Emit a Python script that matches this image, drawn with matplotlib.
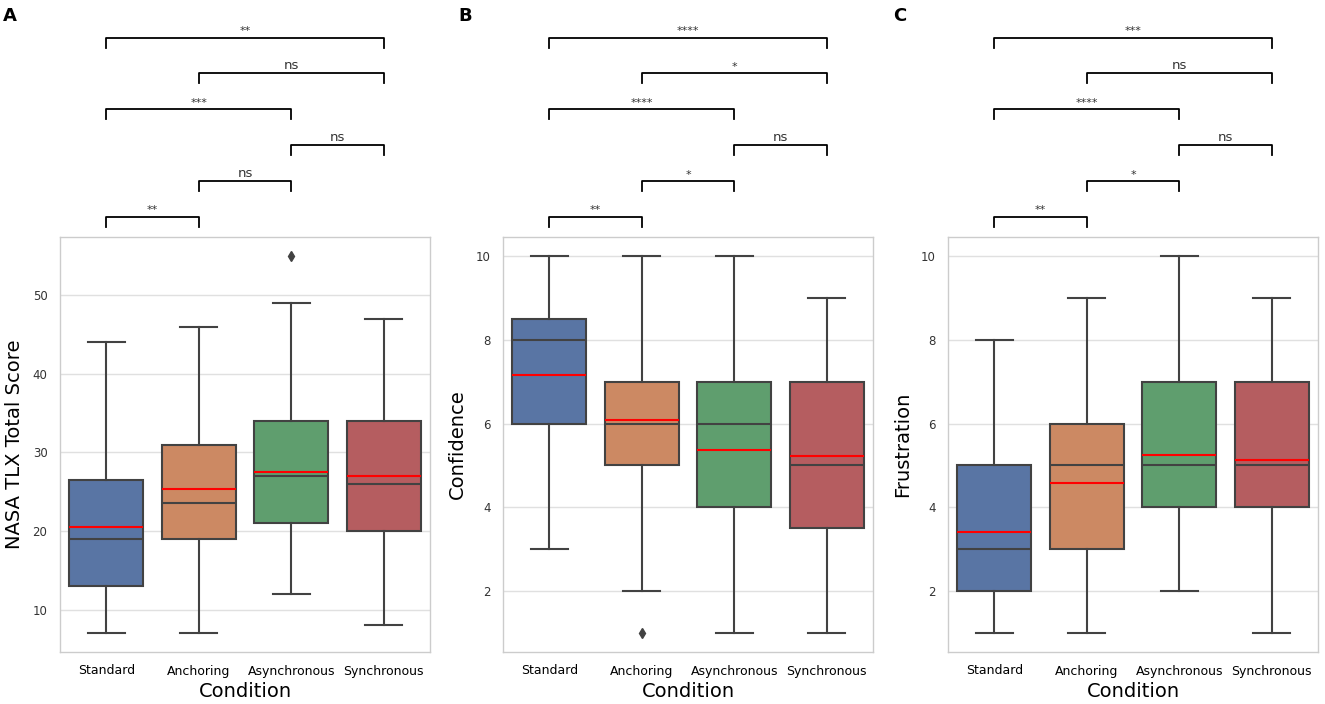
import matplotlib
matplotlib.use("Agg")
from matplotlib import pyplot as plt

CATEGORIES  = ["Standard", "Anchoring", "Asynchronous", "Synchronous"]
COLORS      = ["#5975A4", "#CC8963", "#5F9E6E", "#B55D60"]

# NASA TLX total score
TLX_LO      = [7, 7, 12, 8]
TLX_Q1      = [13, 19, 21, 20]
TLX_MED     = [19, 23.5, 27, 26]
TLX_Q3      = [26.5, 31, 34, 34]
TLX_HI      = [44, 46, 49, 47]
TLX_MEAN    = [20.5, 25.3, 27.5, 27.0]
TLX_FLIERS  = [[], [], [55], []]

# Confidence
CONF_LO     = [3, 2, 1, 1]
CONF_Q1     = [6, 5, 4, 3.5]
CONF_MED    = [8, 6, 6, 5]
CONF_Q3     = [8.5, 7, 7, 7]
CONF_HI     = [10, 10, 10, 9]
CONF_MEAN   = [7.16, 6.08, 5.37, 5.22]
CONF_FLIERS = [[], [1], [], []]

# Frustration
FRUS_LO     = [1, 1, 2, 1]
FRUS_Q1     = [2, 3, 4, 4]
FRUS_MED    = [3, 5, 5, 5]
FRUS_Q3     = [5, 6, 7, 7]
FRUS_HI     = [8, 9, 10, 9]
FRUS_MEAN   = [3.42, 4.59, 5.25, 5.14]
FRUS_FLIERS = [[], [], [], []]

# significance brackets, bottom to top
PAIRS       = [(0, 1), (1, 2), (2, 3), (0, 2), (1, 3), (0, 3)]
TLX_SIG     = ["**", "ns", "ns", "***", "ns", "**"]
CONF_SIG    = ["**", "*", "ns", "****", "*", "****"]
FRUS_SIG    = ["**", "*", "ns", "****", "ns", "***"]

EDGE = "#424242"


def make_stats(lo, q1, med, q3, hi, mean, fliers):
    stats = []
    for i in range(len(CATEGORIES)):
        stats.append(dict(whislo=lo[i], q1=q1[i], med=med[i], q3=q3[i],
                          whishi=hi[i], mean=mean[i], fliers=fliers[i]))
    return stats


def draw_panel(ax, stats, ylabel, sigs):
    bp = ax.bxp(stats, positions=range(len(stats)), widths=0.8, capwidths=0.4,
                patch_artist=True, showmeans=True, meanline=True,
                boxprops=dict(edgecolor=EDGE, linewidth=1.5),
                medianprops=dict(color=EDGE, linewidth=1.5),
                whiskerprops=dict(color=EDGE, linewidth=1.5),
                capprops=dict(color=EDGE, linewidth=1.5),
                meanprops=dict(color="red", linestyle="-", linewidth=1.5),
                flierprops=dict(marker="d", markerfacecolor=EDGE,
                                markeredgecolor=EDGE, markersize=5))
    for patch, c in zip(bp["boxes"], COLORS):
        patch.set_facecolor(c)
    for m in bp["means"]:
        m.set_zorder(4)

    ax.set_xlim(-0.5, len(stats) - 0.5)
    ax.set_xticks(range(len(stats)))
    ax.set_xticklabels(CATEGORIES, fontsize=9)
    ax.tick_params(axis="y", labelsize=8.5, colors="#333333", length=0, pad=9)
    ax.tick_params(axis="x", length=0, pad=9)
    ax.yaxis.grid(True, color="#e0e0e0", linewidth=1)
    ax.set_axisbelow(True)
    for s in ax.spines.values():
        s.set_color("#cccccc")
        s.set_linewidth(1)
    ax.set_xlabel("Condition", fontsize=14, labelpad=3)
    ax.set_ylabel(ylabel, fontsize=14, labelpad=6)

    # brackets above the plot
    tr = ax.get_xaxis_transform()
    for lvl, ((a, b), txt) in enumerate(zip(PAIRS, sigs)):
        y0 = 1.024 + 0.0865 * lvl
        y1 = y0 + 0.024
        ax.plot([a, a, b, b], [y0, y1, y1, y0], color="black", lw=1.3,
                transform=tr, clip_on=False)
        size = 9.5 if txt == "ns" else 8
        ax.text((a + b) / 2, y1 + 0.004, txt, ha="center", va="bottom",
                fontsize=size, color="#333333", transform=tr)


def main() -> None:
    fig = plt.figure(figsize=(13.25, 7.04), dpi=100)
    lefts = [60, 503, 948]
    axes = [fig.add_axes([l / 1325, 52 / 704, 370 / 1325, 415 / 704]) for l in lefts]

    draw_panel(axes[0], make_stats(TLX_LO, TLX_Q1, TLX_MED, TLX_Q3, TLX_HI, TLX_MEAN, TLX_FLIERS),
               "NASA TLX Total Score", TLX_SIG)
    draw_panel(axes[1], make_stats(CONF_LO, CONF_Q1, CONF_MED, CONF_Q3, CONF_HI, CONF_MEAN, CONF_FLIERS),
               "Confidence", CONF_SIG)
    draw_panel(axes[2], make_stats(FRUS_LO, FRUS_Q1, FRUS_MED, FRUS_Q3, FRUS_HI, FRUS_MEAN, FRUS_FLIERS),
               "Frustration", FRUS_SIG)

    axes[0].set_yticks([10, 20, 30, 40, 50])
    for ax in axes[1:]:
        ax.set_yticks([2, 4, 6, 8, 10])

    # panel letters
    for letter, px in zip(["A", "B", "C"], [3, 458, 893]):
        fig.text(px / 1325, 1 - 16 / 704, letter, fontsize=13, fontweight="bold",
                 ha="left", va="center")

    fig.savefig("out.png", dpi=100)


if __name__ == '__main__':
    main()
